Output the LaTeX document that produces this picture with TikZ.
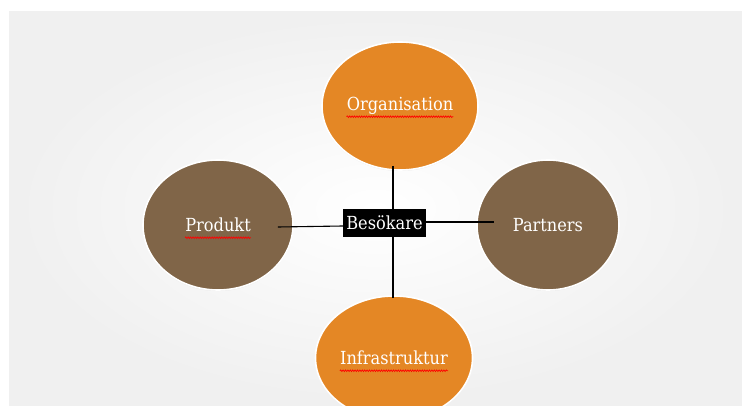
\documentclass[tikz,border=0pt]{standalone}
\usepackage{fontspec}
\setmainfont{DejaVu Serif Condensed}
\usepackage{tikz}
\usetikzlibrary{shapes.geometric, shadows, decorations.pathmorphing}

\definecolor{orangefill}{HTML}{E48725}
\definecolor{brownfill}{HTML}{806548}

\begin{document}
\begin{tikzpicture}[x=1pt, y=1pt,
      part/.style={ellipse, draw=white, line width=1.6pt,
        drop shadow={opacity=0.15, shadow xshift=0pt, shadow yshift=-1pt}},
      orangepart/.style={part, fill=orangefill},
      brownpart/.style={part, fill=brownfill},
      word/.style={text=white, inner sep=0pt, font=\fontsize{18}{20}\selectfont},
      spell/.style={draw=red, line width=0.7pt, decorate,
        decoration={snake, amplitude=0.8pt, segment length=2.4pt}},
      hub/.style={rectangle, fill=black, text=white, inner sep=0pt,
        minimum width=83pt, minimum height=28pt, font=\fontsize{18}{20}\selectfont},
      link/.style={draw=black, line width=1.1pt}]
      \useasboundingbox (0,0) rectangle (742,405);
      \shade[inner color=white, outer color=black!6] (9,0) rectangle (742,393);

      \node[orangepart, minimum width=156pt, minimum height=128pt] (org) at (400,299) {};
      \node[brownpart, minimum width=150pt, minimum height=130pt] (prod) at (218,180) {};
      \node[brownpart, minimum width=142pt, minimum height=130pt] (partners) at (548,180) {};
      \node[orangepart, minimum width=157pt, minimum height=124pt] (infra) at (394,47) {};

      \node[word] (orgtext) at (org) {Organisation};
      \node[word] (prodtext) at (prod) {Produkt};
      \node[word] (partnerstext) at (partners) {Partners};
      \node[word] (infratext) at (infra) {Infrastruktur};
      \node[hub] (visitor) at (384.5,182) {Besökare};

      % Spelling marks
      \foreach \w in {orgtext, prodtext, infratext}
        \draw[spell] ([yshift=-6pt]\w.base west) -- ([yshift=-6pt]\w.base east);

      % Lines
      \draw[link] ([shift={(-7pt,5pt)}]org.south) -- ([xshift=8.5pt]visitor.north);
      \draw[link] ([xshift=8.5pt]visitor.south) -- ([shift={(-1pt,-3pt)}]infra.north);
      \draw[link] ([shift={(-16pt,-2pt)}]prod.east) -- ([yshift=-3pt]visitor.west);
      \draw[link] ([yshift=1pt]visitor.east) -- ([shift={(18pt,3pt)}]partners.west);
    \end{tikzpicture}
\end{document}
